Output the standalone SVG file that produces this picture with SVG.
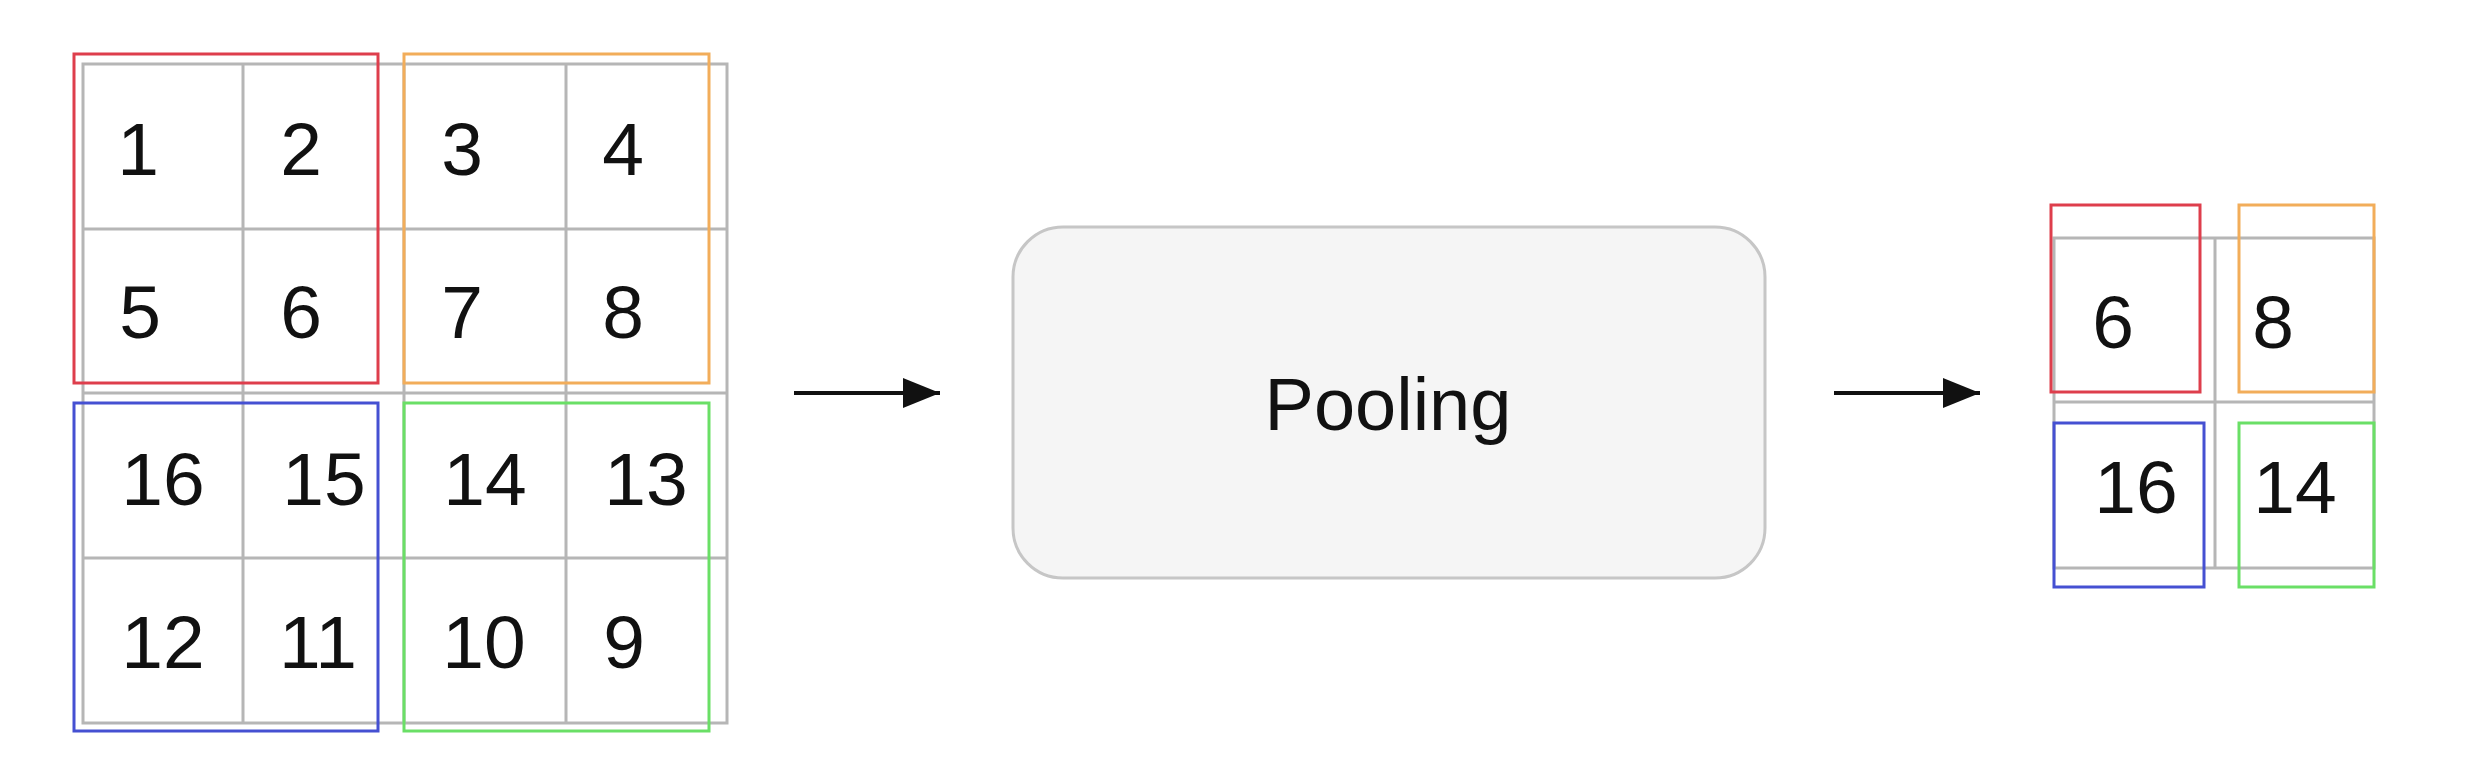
<svg xmlns="http://www.w3.org/2000/svg" width="2478" height="764" viewBox="0 0 2478 764">
<style>
.grid{fill:none;stroke:#b6b6b6;stroke-width:3}
.win{fill:none;stroke-width:3}
.red{stroke:#de3e4c}
.orange{stroke:#f2ad5a}
.blue{stroke:#4550d2}
.green{stroke:#6adf66}
.num{font-family:"Liberation Sans",Arial,sans-serif;font-size:75px;fill:#111;text-anchor:middle}
.lbl{font-family:"Liberation Sans",Arial,sans-serif;font-size:74px;fill:#111;text-anchor:middle}
.conn{stroke:#111;stroke-width:4;fill:none}
</style>
<defs>
<marker id="ah" markerUnits="userSpaceOnUse" markerWidth="40" markerHeight="32" refX="37" refY="15" orient="auto">
<path d="M0,0 L37,15 L0,30 Z" fill="#111"/>
</marker>
</defs>
<rect width="2478" height="764" fill="#fff"/>
<g id="input-grid">
<rect class="grid" x="83" y="64" width="644" height="659"/>
<path class="grid" d="M243,64V723M404,64V723M566,64V723M83,229H727M83,393H727M83,558H727"/>
<text class="num" x="138" y="175">1</text>
<text class="num" x="301" y="175">2</text>
<text class="num" x="462" y="175">3</text>
<text class="num" x="623" y="175">4</text>
<text class="num" x="140" y="338">5</text>
<text class="num" x="301" y="338">6</text>
<text class="num" x="462" y="338">7</text>
<text class="num" x="623" y="338">8</text>
<text class="num" x="163" y="505">16</text>
<text class="num" x="324" y="505">15</text>
<text class="num" x="485" y="505">14</text>
<text class="num" x="646" y="505">13</text>
<text class="num" x="163" y="668">12</text>
<text class="num" x="318" y="668">11</text>
<text class="num" x="484" y="668">10</text>
<text class="num" x="624" y="668">9</text>
</g>
<g id="window-red"><rect class="win red" x="74" y="54" width="304" height="329"/></g>
<g id="window-orange"><rect class="win orange" x="404" y="54" width="305" height="329"/></g>
<g id="window-blue"><rect class="win blue" x="74" y="403" width="304" height="328"/></g>
<g id="window-green"><rect class="win green" x="404" y="403" width="305" height="328"/></g>
<g id="pooling">
<rect x="1013" y="227" width="752" height="351" rx="50" ry="50" fill="#f5f5f5" stroke="#c6c6c6" stroke-width="3"/>
<text class="lbl" x="1388" y="430">Pooling</text>
</g>
<g id="output-grid">
<rect class="grid" x="2054" y="238" width="320" height="330"/>
<path class="grid" d="M2215,238V568M2054,402H2374"/>
<text class="num" x="2113" y="348">6</text>
<text class="num" x="2273" y="348">8</text>
<text class="num" x="2136" y="513">16</text>
<text class="num" x="2295" y="513">14</text>
</g>
<g id="out-red"><rect class="win red" x="2051" y="205" width="149" height="187"/></g>
<g id="out-orange"><rect class="win orange" x="2239" y="205" width="135" height="187"/></g>
<g id="out-blue"><rect class="win blue" x="2054" y="423" width="150" height="164"/></g>
<g id="out-green"><rect class="win green" x="2239" y="423" width="135" height="164"/></g>
<g id="connectors">
<line class="conn" x1="794" y1="393" x2="940" y2="393" marker-end="url(#ah)"/>
<line class="conn" x1="1834" y1="393" x2="1980" y2="393" marker-end="url(#ah)"/>
</g>
</svg>
